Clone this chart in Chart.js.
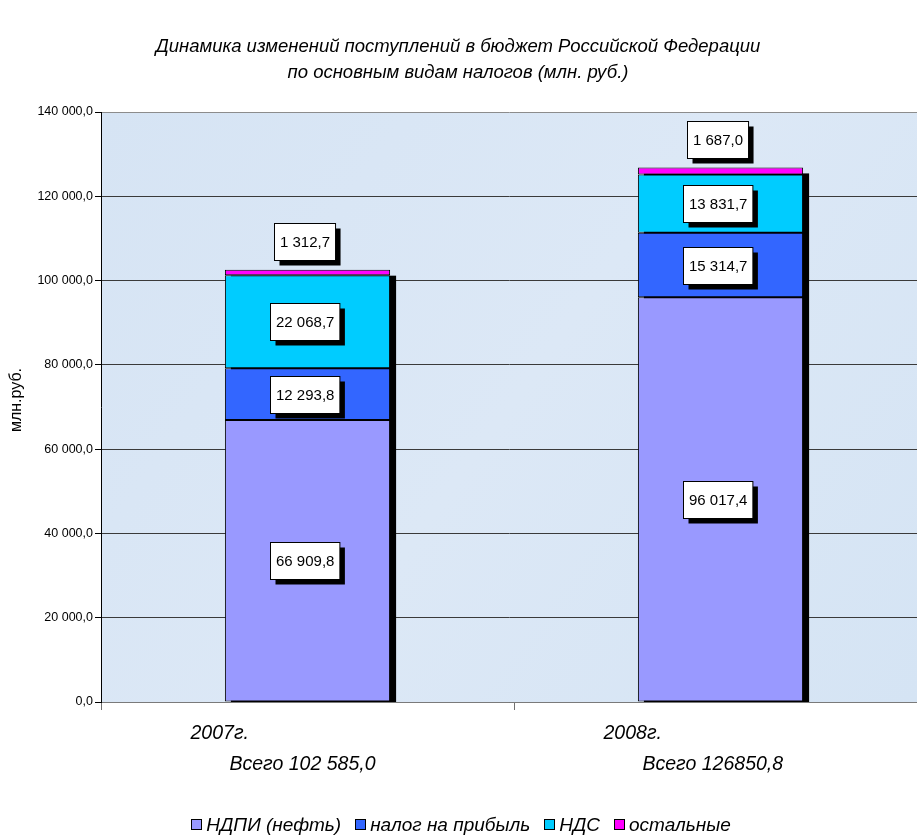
<!DOCTYPE html>
<html>
<head>
<meta charset="utf-8">
<script src="https://cdn.jsdelivr.net/npm/chart.js@4/dist/chart.umd.min.js"></script>
<style>
  html, body { margin: 0; padding: 0; background: #ffffff; overflow: hidden; }
  #wrap { width: 917px; height: 837px; position: relative; }
</style>
</head>
<body>
<div id="wrap"><canvas id="c" width="917" height="837"></canvas></div>
<script>
// Tax revenue by type, mln. rub.
const categories = ['2007г.', '2008г.'];
const totalLabels = ['Всего 102 585,0', 'Всего 126850,8'];
const seriesNames = ['НДПИ (нефть)', 'налог на прибыль', 'НДС', 'остальные'];
const ndpi = [66909.8, 96017.4];
const profitTax = [12293.8, 15314.7];
const vat = [22068.7, 13831.7];
const others = [1312.7, 1687.0];
const yMax = 140000;
const yStep = 20000;
const titleLines = [
  'Динамика изменений поступлений в бюджет Российской Федерации',
  'по основным видам налогов (млн. руб.)'
];
const yAxisTitle = 'млн.руб.';

const seriesColors = ['#9999ff', '#3366ff', '#00ccff', '#ff00ff'];
const FONT = '"Liberation Sans", Arial, sans-serif';

// "66909.8" -> "66 909,8"
function fmt(v) {
  const parts = v.toFixed(1).split('.');
  return parts[0].replace(/\B(?=(\d{3})+(?!\d))/g, ' ') + ',' + parts[1];
}

// Plot background
const plotBackground = {
  id: 'plotBackground',
  beforeDraw(chart) {
    const { ctx, chartArea: a } = chart;
    ctx.save();
    const g = ctx.createLinearGradient(a.left, a.top, a.right, a.bottom);
    g.addColorStop(0, '#d6e4f4');
    g.addColorStop(0.5, '#dce8f6');
    g.addColorStop(1, '#d5e4f4');
    ctx.fillStyle = g;
    ctx.fillRect(a.left, a.top, a.right - a.left, a.bottom - a.top);
    ctx.restore();
  }
};

// The category axis runs a little past the right edge of the canvas
const widenCategoryAxis = {
  id: 'widenCategoryAxis',
  afterLayout(chart) {
    const x = chart.scales.x;
    const span = 826;
    x.right = x.left + span;
    x.width = span;
    x.configure();
  }
};

// Drop shadow behind each whole stack
const stackShadow = {
  id: 'stackShadow',
  beforeDatasetsDraw(chart) {
    const { ctx, chartArea: a } = chart;
    const n = chart.data.datasets.length;
    const topMeta = chart.getDatasetMeta(n - 1);
    const bottomMeta = chart.getDatasetMeta(0);
    ctx.save();
    ctx.beginPath();
    ctx.rect(a.left, a.top, a.right - a.left, a.bottom - a.top);
    ctx.clip();
    ctx.fillStyle = '#000';
    topMeta.data.forEach((el, i) => {
      const t = el.getProps(['x', 'y', 'width'], true);
      const b = bottomMeta.data[i].getProps(['base'], true);
      ctx.fillRect(t.x - t.width / 2 + 6, t.y + 6, t.width, b.base - t.y);
    });
    ctx.restore();
  }
};

function labelBox(ctx, text, cx, cy) {
  ctx.font = '15px ' + FONT;
  const w = ctx.measureText(text).width + 11;
  const h = 37;
  const l = Math.round(cx - w / 2) + 0.5;
  const t = Math.round(cy - h / 2) + 0.5;
  ctx.fillStyle = '#000';
  ctx.fillRect(l + 5, t + 5, w, h);
  ctx.fillStyle = '#fff';
  ctx.fillRect(l, t, w, h);
  ctx.strokeStyle = '#000';
  ctx.lineWidth = 1;
  ctx.strokeRect(l, t, w, h);
  ctx.fillStyle = '#000';
  ctx.textAlign = 'center';
  ctx.textBaseline = 'middle';
  ctx.fillText(text, l + w / 2, t + h / 2 + 1);
}

// Value boxes: inside each segment, the last series above the stack
const valueLabels = {
  id: 'valueLabels',
  afterDatasetsDraw(chart) {
    const { ctx } = chart;
    const last = chart.data.datasets.length - 1;
    ctx.save();
    chart.data.datasets.forEach((ds, di) => {
      chart.getDatasetMeta(di).data.forEach((el, i) => {
        const p = el.getProps(['x', 'y', 'base'], true);
        const cy = di === last ? p.y - 28 : (p.y + p.base) / 2;
        labelBox(ctx, fmt(ds.data[i]), p.x - 2.5, cy);
      });
    });
    ctx.restore();
  }
};

// Title, axis title, category captions and legend
const texts = {
  id: 'texts',
  afterDraw(chart) {
    const { ctx } = chart;
    const x = chart.scales.x;
    ctx.save();
    ctx.fillStyle = '#000';
    ctx.textBaseline = 'middle';

    ctx.font = 'italic 18.5px ' + FONT;
    ctx.textAlign = 'center';
    ctx.fillText(titleLines[0], 458, 47);
    ctx.fillText(titleLines[1], 458, 73);

    ctx.save();
    ctx.translate(17, 400);
    ctx.rotate(-Math.PI / 2);
    ctx.font = '16px ' + FONT;
    ctx.textAlign = 'center';
    ctx.fillText(yAxisTitle, 0, 0);
    ctx.restore();

    ctx.font = 'italic 19.5px ' + FONT;
    ctx.textAlign = 'left';
    categories.forEach((c, i) => {
      const cx = x.getPixelForValue(i);
      ctx.fillText(c, cx - 117, 734);
      ctx.fillText(totalLabels[i], cx - 78, 765);
    });

    // legend
    ctx.font = 'italic 19px ' + FONT;
    const box = 10, gapIn = 5, gapOut = 14;
    const widths = seriesNames.map(s => ctx.measureText(s).width);
    const total = widths.reduce((s, w) => s + box + gapIn + w, 0) + gapOut * (seriesNames.length - 1);
    let lx = 461 - total / 2;
    const ly = 825;
    seriesNames.forEach((s, i) => {
      const bx = Math.round(lx) + 0.5;
      ctx.fillStyle = seriesColors[i];
      ctx.fillRect(bx, ly - 5.5, box, box);
      ctx.strokeStyle = '#000';
      ctx.lineWidth = 1;
      ctx.strokeRect(bx, ly - 5.5, box, box);
      ctx.fillStyle = '#000';
      ctx.fillText(s, lx + box + gapIn, ly + 1);
      lx += box + gapIn + widths[i] + gapOut;
    });
    ctx.restore();
  }
};

const datasetValues = [ndpi, profitTax, vat, others];

new Chart(document.getElementById('c'), {
  type: 'bar',
  data: {
    labels: categories,
    datasets: seriesNames.map((name, i) => ({
      label: name,
      data: datasetValues[i],
      backgroundColor: seriesColors[i],
      borderColor: '#000',
      borderWidth: 1,
      borderSkipped: false,
      categoryPercentage: 1,
      barPercentage: 0.4
    }))
  },
  options: {
    responsive: false,
    animation: false,
    devicePixelRatio: 1,
    layout: { padding: { top: 112, left: 0, right: 0, bottom: 0 } },
    plugins: {
      legend: { display: false },
      title: { display: false },
      tooltip: { enabled: false }
    },
    scales: {
      x: {
        stacked: true,
        offset: true,
        afterFit: s => { s.height = 135; },
        grid: { display: true, drawOnChartArea: false, offset: true, tickLength: 8, color: '#707070' },
        border: { display: true, color: '#7a7a7a', width: 1 },
        ticks: { display: false }
      },
      y: {
        stacked: true,
        min: 0,
        max: yMax,
        afterFit: s => { s.width = 101; },
        ticks: {
          stepSize: yStep,
          padding: 2,
          color: '#000',
          font: { family: FONT, size: 12.5 },
          callback: v => fmt(v)
        },
        grid: {
          color: c => (c.tick && c.tick.value === yMax ? '#8c8c8c' : '#3a3a3a'),
          tickColor: '#000',
          tickLength: 6,
          lineWidth: 1
        },
        border: { display: true, color: '#000', width: 1 }
      }
    }
  },
  plugins: [plotBackground, widenCategoryAxis, stackShadow, valueLabels, texts]
});
</script>
</body>
</html>
